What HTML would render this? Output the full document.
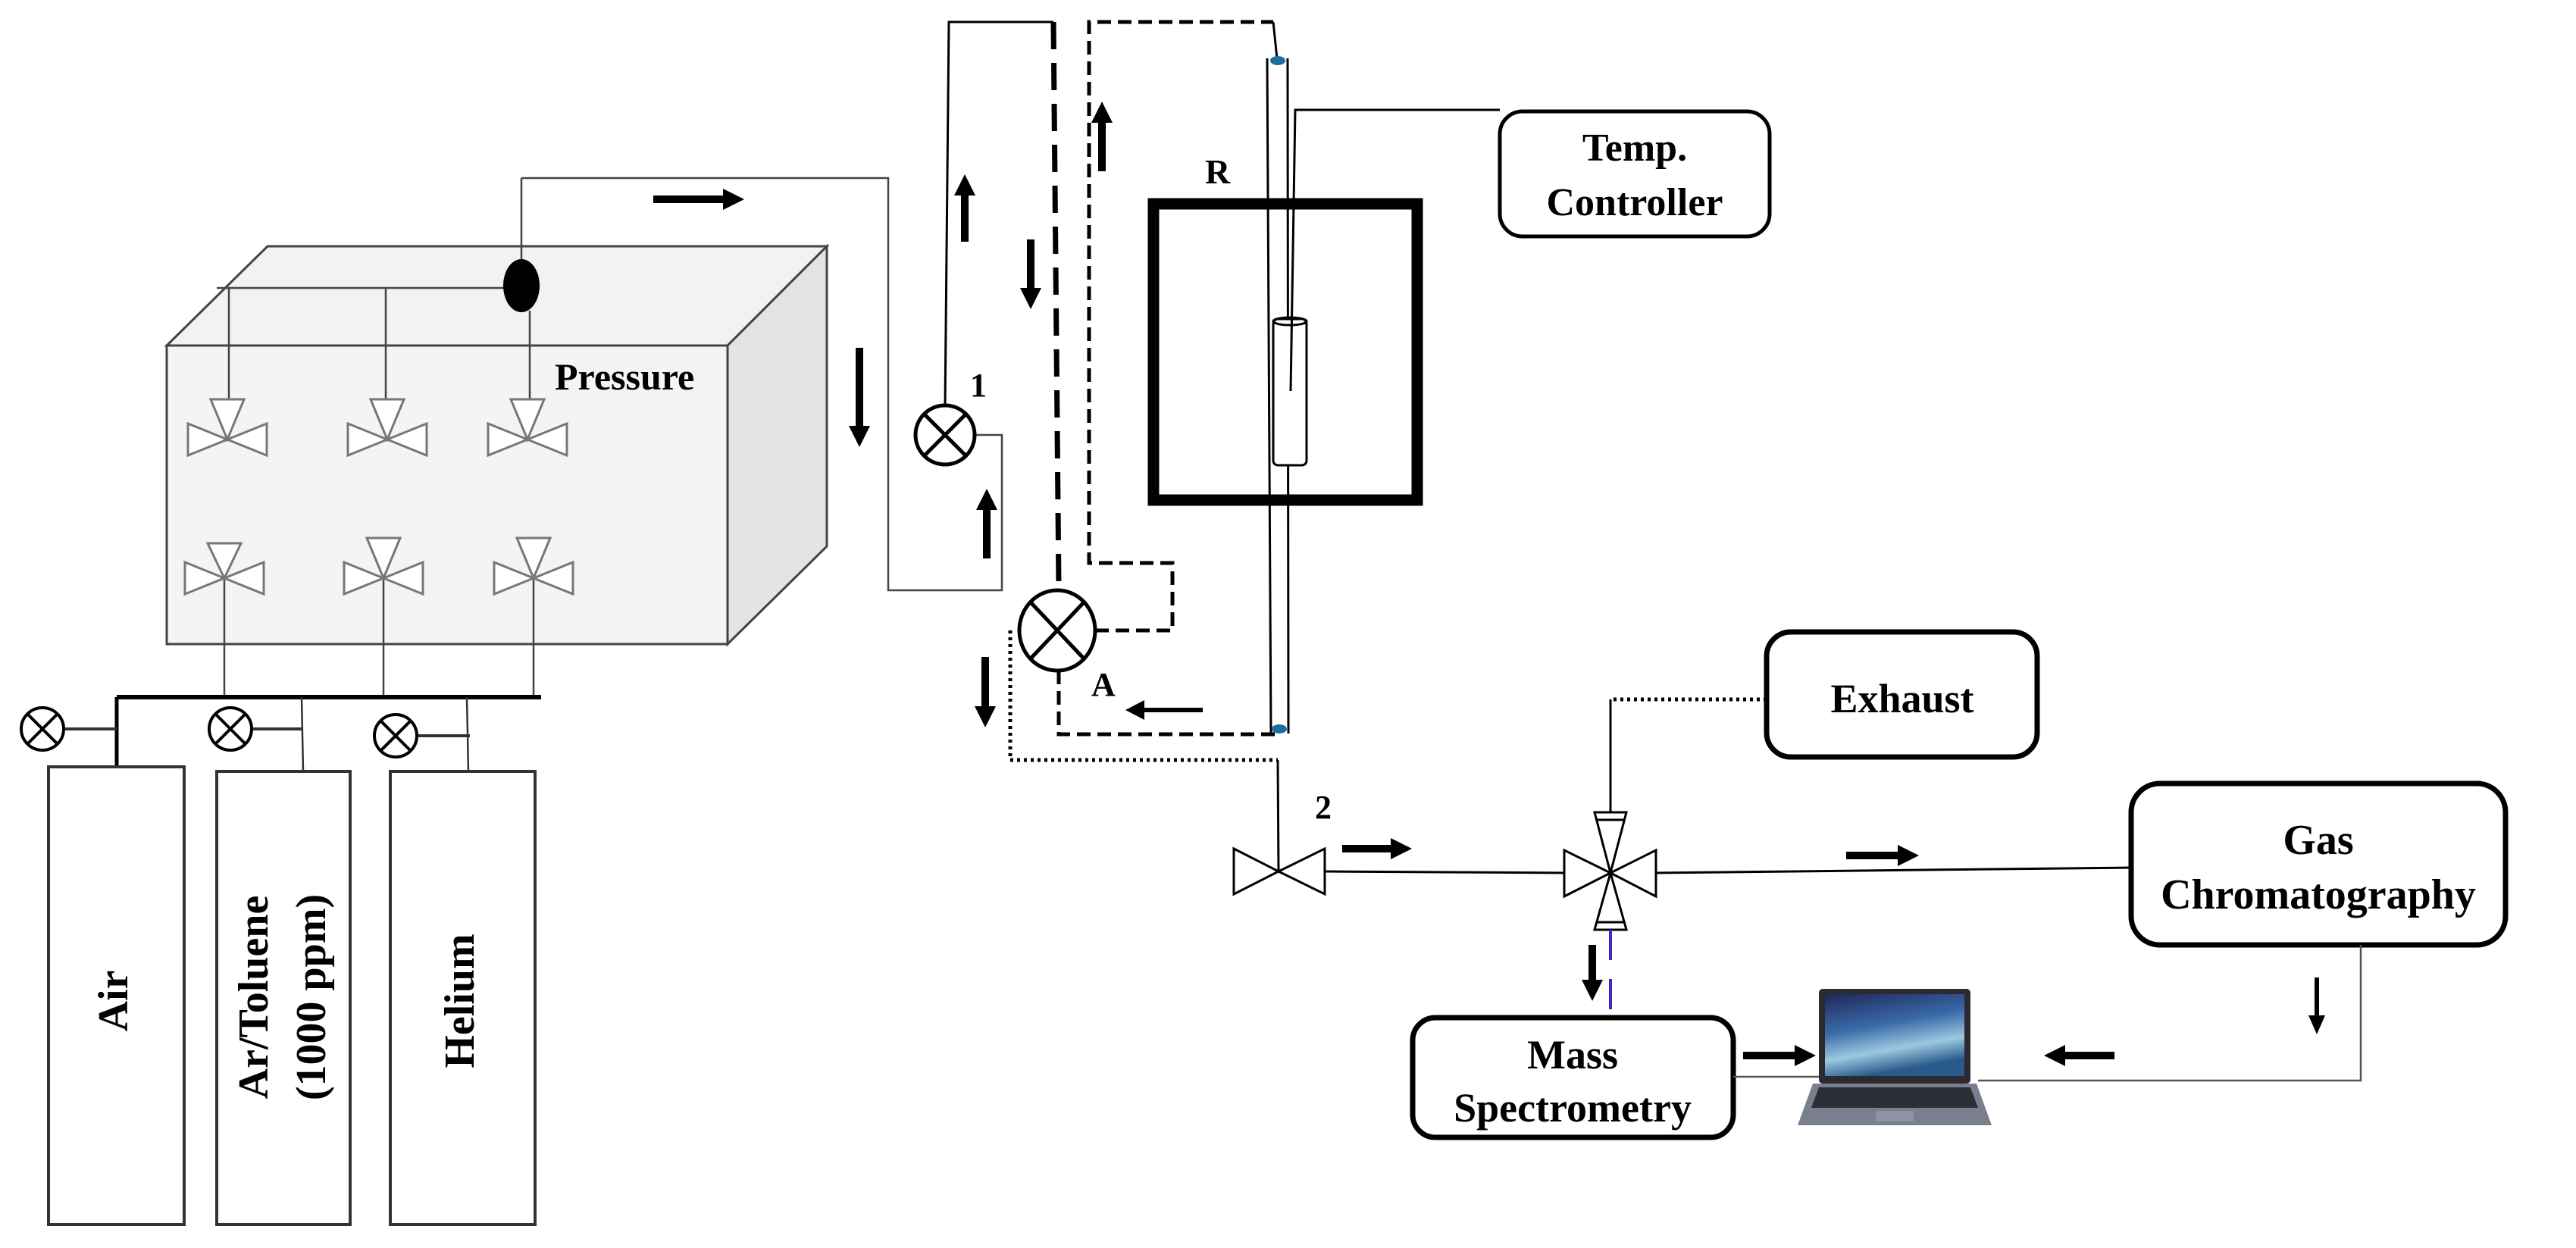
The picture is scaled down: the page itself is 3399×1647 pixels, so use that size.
<!DOCTYPE html>
<html><head><meta charset="utf-8"><style>
html,body{margin:0;padding:0;background:#fff;}
svg{display:block;}
text{font-family:"Liberation Serif",serif;font-weight:bold;fill:#000;}
</style></head><body>
<svg width="3399" height="1647" viewBox="0 0 3399 1647" xmlns="http://www.w3.org/2000/svg">
<!-- pressure box -->
<polygon points="220,456 353,325 1091,325 960,456" fill="#f2f2f2" stroke="#444" stroke-width="3"/>
<polygon points="960,456 1091,325 1091,721 960,850" fill="#e4e4e4" stroke="#444" stroke-width="3"/>
<rect x="220" y="456" width="740" height="394" fill="#f4f4f4" stroke="#444" stroke-width="3"/>
<text x="732" y="514" font-size="50">Pressure</text>
<!-- distribution -->
<g stroke="#444" stroke-width="2.5" fill="none">
<line x1="286" y1="380" x2="688" y2="380"/>
<line x1="688" y1="235" x2="688" y2="345"/>
<polyline points="688,235 1172,235 1172,779 1322,779 1322,574 1287,574"/>
<line x1="302" y1="380" x2="302" y2="527"/>
<line x1="509" y1="380" x2="509" y2="527"/>
<line x1="699" y1="410" x2="699" y2="527"/>
<line x1="296" y1="763" x2="296" y2="920"/>
<line x1="506" y1="763" x2="506" y2="920"/>
<line x1="704" y1="763" x2="704" y2="920"/>
</g>
<ellipse cx="688" cy="377" rx="24" ry="35" fill="#000"/>
<!-- valves in box -->
<g fill="#fff" stroke="#777" stroke-width="3">
<g transform="translate(300,580)"><polygon points="-22,-53 22,-53 0,0"/><polygon points="0,0 -52,-21 -52,21"/><polygon points="0,0 52,-21 52,21"/></g>
<g transform="translate(511,580)"><polygon points="-22,-53 22,-53 0,0"/><polygon points="0,0 -52,-21 -52,21"/><polygon points="0,0 52,-21 52,21"/></g>
<g transform="translate(696,580)"><polygon points="-22,-53 22,-53 0,0"/><polygon points="0,0 -52,-21 -52,21"/><polygon points="0,0 52,-21 52,21"/></g>
<g transform="translate(296,763)"><polygon points="-22,-46 22,-46 0,0"/><polygon points="0,0 -52,-21 -52,21"/><polygon points="0,0 52,-21 52,21"/></g>
<g transform="translate(506,763)"><polygon points="-22,-53 22,-53 0,0"/><polygon points="0,0 -52,-21 -52,21"/><polygon points="0,0 52,-21 52,21"/></g>
<g transform="translate(704,763)"><polygon points="-22,-53 22,-53 0,0"/><polygon points="0,0 -52,-21 -52,21"/><polygon points="0,0 52,-21 52,21"/></g>
</g>
<!-- manifold and cylinders -->
<line x1="154" y1="920" x2="714" y2="920" stroke="#000" stroke-width="6"/>
<line x1="154" y1="920" x2="154" y2="1012" stroke="#000" stroke-width="5"/>
<g stroke="#333" stroke-width="2.5">
<line x1="86" y1="962" x2="154" y2="962" stroke-width="4"/>
<line x1="332" y1="962" x2="398" y2="962" stroke-width="4"/>
<line x1="398" y1="920" x2="400" y2="1018"/>
<line x1="550" y1="971" x2="620" y2="971" stroke-width="4"/>
<line x1="616" y1="920" x2="618" y2="1018"/>
</g>
<g fill="#fff" stroke="#000" stroke-width="4">
<circle cx="56" cy="962" r="28"/><line x1="36" y1="942" x2="76" y2="982"/><line x1="76" y1="942" x2="36" y2="982"/>
<circle cx="304" cy="962" r="28"/><line x1="284" y1="942" x2="324" y2="982"/><line x1="324" y1="942" x2="284" y2="982"/>
<circle cx="522" cy="971" r="28"/><line x1="502" y1="951" x2="542" y2="991"/><line x1="542" y1="951" x2="502" y2="991"/>
</g>
<g fill="#fff" stroke="#333" stroke-width="4">
<rect x="64" y="1012" width="179" height="604"/>
<rect x="286" y="1018" width="176" height="598"/>
<rect x="515" y="1018" width="191" height="598"/>
</g>
<text transform="translate(168,1321) rotate(-90)" font-size="56" text-anchor="middle">Air</text>
<text transform="translate(353,1316) rotate(-90)" font-size="56" text-anchor="middle">Ar/Toluene</text>
<text transform="translate(429,1316) rotate(-90)" font-size="56" text-anchor="middle">(1000 ppm)</text>
<text transform="translate(625,1321) rotate(-90)" font-size="56" text-anchor="middle">Helium</text>
<!-- valve 1 loop -->
<g stroke="#000" stroke-width="3" fill="none">
<polyline points="1247,536 1252,29 1390,29"/>
</g>
<line x1="1390" y1="29" x2="1397" y2="775" stroke="#000" stroke-width="7" stroke-dasharray="36,18"/>
<g fill="#fff" stroke="#000" stroke-width="5">
<circle cx="1247" cy="574" r="39"/><line x1="1220" y1="547" x2="1274" y2="601"/><line x1="1274" y1="547" x2="1220" y2="601"/>
<ellipse cx="1395" cy="832" rx="50" ry="53"/><line x1="1360" y1="795" x2="1430" y2="869"/><line x1="1430" y1="795" x2="1360" y2="869"/>
</g>
<text x="1280" y="523" font-size="44">1</text>
<text x="1440" y="918" font-size="44">A</text>
<!-- dashed loops -->
<g stroke="#000" stroke-width="5" fill="none" stroke-dasharray="18,9">
<polyline points="1445,832 1547,832 1547,743 1437,743 1437,29 1680,29"/>
<polyline points="1397,885 1397,969 1685,969"/>
</g>
<line x1="1680" y1="29" x2="1685" y2="77" stroke="#000" stroke-width="3"/>
<polyline points="1333,832 1333,1003 1686,1003" fill="none" stroke="#000" stroke-width="5" stroke-dasharray="4,5"/>
<line x1="1686" y1="1003" x2="1687" y2="1150" stroke="#000" stroke-width="3"/>
<!-- furnace & reactor -->
<rect x="1522" y="269" width="348" height="391" fill="none" stroke="#000" stroke-width="15"/>
<g stroke="#000" stroke-width="3" fill="none">
<line x1="1672" y1="77" x2="1677" y2="968"/>
<line x1="1699" y1="77" x2="1700" y2="968"/>
<rect x="1680" y="421" width="44" height="193" rx="6" fill="#fff"/>
<ellipse cx="1702" cy="424" rx="22" ry="5"/>
<polyline points="1703,516 1709,145 1979,145"/>
</g>
<ellipse cx="1686" cy="80" rx="10" ry="6" fill="#1a6e9a"/>
<ellipse cx="1688" cy="962" rx="10" ry="6" fill="#1a6e9a"/>
<text x="1590" y="242" font-size="46">R</text>
<rect x="1979" y="147" width="356" height="165" rx="30" fill="#fff" stroke="#000" stroke-width="5"/>
<text x="2157" y="212" font-size="52" text-anchor="middle">Temp.</text>
<text x="2157" y="284" font-size="52" text-anchor="middle">Controller</text>
<!-- exhaust -->
<rect x="2331" y="834" width="357" height="165" rx="32" fill="#fff" stroke="#000" stroke-width="7"/>
<text x="2510" y="940" font-size="54" text-anchor="middle">Exhaust</text>
<polyline points="2331,923 2125,923" fill="none" stroke="#000" stroke-width="5" stroke-dasharray="4,5"/>
<line x1="2125" y1="923" x2="2125" y2="1072" stroke="#000" stroke-width="3"/>
<!-- valve 2 -->
<g fill="#fff" stroke="#000" stroke-width="3">
<polygon points="1687,1150 1628,1120 1628,1180"/>
<polygon points="1687,1150 1748,1120 1748,1180"/>
</g>
<text x="1735" y="1080" font-size="44">2</text>
<line x1="1748" y1="1150" x2="2064" y2="1152" stroke="#000" stroke-width="3"/>
<line x1="2185" y1="1152" x2="2812" y2="1145" stroke="#000" stroke-width="3"/>
<!-- 4-way valve -->
<g fill="#fff" stroke="#000" stroke-width="3">
<polygon points="2125,1152 2064,1122 2064,1183"/>
<polygon points="2125,1152 2185,1122 2185,1183"/>
<polygon points="2125,1152 2104,1072 2146,1072"/>
<polygon points="2125,1152 2104,1227 2146,1227"/>
<line x1="2106" y1="1082" x2="2144" y2="1082"/>
<line x1="2106" y1="1217" x2="2144" y2="1217"/>
</g>
<line x1="2125" y1="1227" x2="2125" y2="1343" stroke="#3a28c8" stroke-width="4" stroke-dasharray="40,25"/>
<!-- GC -->
<rect x="2812" y="1034" width="494" height="213" rx="38" fill="#fff" stroke="#000" stroke-width="7"/>
<text x="3059" y="1127" font-size="56" text-anchor="middle">Gas</text>
<text x="3059" y="1199" font-size="56" text-anchor="middle">Chromatography</text>
<polyline points="3115,1247 3115,1426 2610,1426" fill="none" stroke="#555" stroke-width="2.5"/>
<!-- MS -->
<rect x="1864" y="1343" width="423" height="158" rx="30" fill="#fff" stroke="#000" stroke-width="7"/>
<text x="2075" y="1410" font-size="54" text-anchor="middle">Mass</text>
<text x="2075" y="1480" font-size="54" text-anchor="middle">Spectrometry</text>
<line x1="2287" y1="1421" x2="2400" y2="1421" stroke="#555" stroke-width="2.5"/>
<!-- laptop -->
<defs><linearGradient id="scr" x1="0" y1="0" x2="0.3" y2="1">
<stop offset="0" stop-color="#20285a"/><stop offset="0.45" stop-color="#3a6aa8"/><stop offset="0.75" stop-color="#9cc8e0"/><stop offset="1" stop-color="#2a5a8a"/></linearGradient></defs>
<rect x="2400" y="1305" width="200" height="125" rx="5" fill="#2a2a30"/>
<rect x="2408" y="1312" width="184" height="108" fill="url(#scr)"/>
<polygon points="2392,1430 2608,1430 2628,1485 2372,1485" fill="#7a7f90"/>
<polygon points="2400,1435 2600,1435 2610,1462 2390,1462" fill="#2c2e36"/>
<rect x="2475" y="1466" width="50" height="14" fill="#8e93a3"/>
<!-- arrows -->
<g fill="#000">
<rect x="862" y="258" width="92" height="10"/><polygon points="954,249 954,277 982,263"/>
<rect x="1129" y="459" width="10" height="103"/><polygon points="1120,562 1148,562 1134,590"/>
<rect x="1268" y="258" width="10" height="61"/><polygon points="1259,258 1287,258 1273,230"/>
<rect x="1355" y="316" width="10" height="64"/><polygon points="1346,380 1374,380 1360,408"/>
<rect x="1449" y="162" width="10" height="64"/><polygon points="1440,162 1468,162 1454,134"/>
<rect x="1297" y="673" width="10" height="64"/><polygon points="1288,673 1316,673 1302,645"/>
<rect x="1295" y="867" width="10" height="65"/><polygon points="1286,932 1314,932 1300,960"/>
<rect x="1510" y="934" width="77" height="6"/><polygon points="1510,924 1510,950 1485,937"/>
<rect x="1771" y="1115" width="64" height="10"/><polygon points="1835,1106 1835,1134 1863,1120"/>
<rect x="2436" y="1124" width="68" height="10"/><polygon points="2504,1115 2504,1143 2532,1129"/>
<rect x="2096" y="1247" width="10" height="46"/><polygon points="2087,1293 2115,1293 2101,1321"/>
<rect x="3054" y="1290" width="6" height="50"/><polygon points="3046,1340 3068,1340 3057,1365"/>
<rect x="2300" y="1388" width="68" height="10"/><polygon points="2368,1379 2368,1407 2396,1393"/>
<rect x="2725" y="1388" width="65" height="10"/><polygon points="2725,1379 2725,1407 2697,1393"/>
</g>
</svg>
</body></html>
